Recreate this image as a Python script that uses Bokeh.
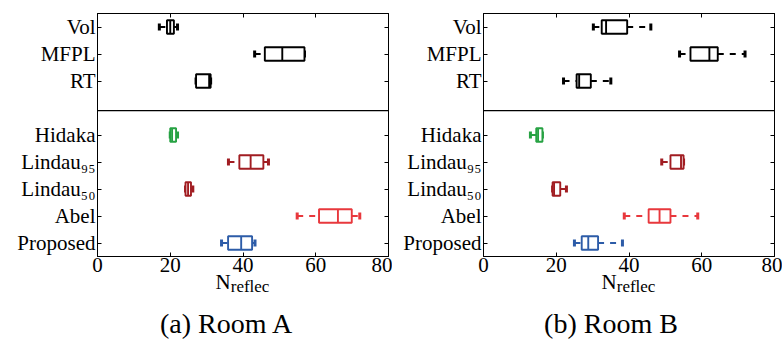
from bokeh.plotting import figure
from bokeh.models import Range1d, LinearAxis, FixedTicker, Span, ColumnDataSource, Div
from bokeh.layouts import row, column
from bokeh.embed import file_html
from bokeh.resources import INLINE

# ---- data ----
methods = ["Vol", "MFPL", "RT", "Hidaka", "Lindau\u2089\u2085", "Lindau\u2085\u2080", "Abel", "Proposed"]
colors = ["#000000", "#000000", "#000000", "#27a243", "#a11d22", "#a11d22", "#e8383d", "#2d5ca8"]
group_sizes = [3, 5]

roomA_whislo = [17.0, 43.2, 27.1, 20.0, 36.0, 24.2, 54.9, 34.1]
roomA_q1     = [19.1, 46.0, 27.1, 20.0, 39.0, 24.2, 60.9, 35.9]
roomA_med    = [20.0, 50.8, 30.7, 20.5, 42.1, 24.9, 66.1, 39.5]
roomA_q3     = [21.0, 56.9, 31.1, 21.6, 45.6, 25.7, 69.9, 42.5]
roomA_whishi = [22.0, 56.9, 31.1, 22.0, 47.0, 26.2, 72.1, 43.3]

roomB_whislo = [30.2, 53.9, 22.0, 12.9, 49.0, 19.0, 38.7, 25.0]
roomB_q1     = [32.5, 56.9, 25.6, 14.5, 51.4, 19.0, 45.4, 27.0]
roomB_med    = [33.7, 62.1, 26.3, 15.0, 54.3, 19.4, 48.4, 28.8]
roomB_q3     = [39.5, 64.4, 29.5, 16.2, 55.0, 21.1, 51.4, 31.5]
roomB_whishi = [46.0, 71.9, 35.0, 16.2, 55.0, 22.8, 58.9, 38.2]

x_ticks = [0, 20, 40, 60, 80]
captions = ["(a) Room A", "(b) Room B"]
x_label_main = "N"
x_label_sub = "reflec"

FONT = "Liberation Serif"

# row slots: groups separated by one empty slot
rows = []
for g, n in enumerate(group_sizes):
    start = sum(group_sizes[:g]) + g
    rows += list(range(start, start + n))
divider = group_sizes[0] + 0.1

BOX_H = 0.5
CAP_H = 0.26
FRAME_W = 291


def make_panel(whislo, q1, med, q3, whishi, width, lb, rb):
    p = figure(width=width, height=282, output_backend="svg", toolbar_location=None,
               x_range=Range1d(0, 80), y_range=Range1d(8.5, -0.5),
               min_border_left=lb, min_border_right=rb, min_border_top=13, min_border_bottom=26)
    p.xgrid.visible = False
    p.ygrid.visible = False
    p.outline_line_color = "black"
    p.outline_line_width = 1
    p.background_fill_color = "white"
    p.border_fill_color = "white"

    src = ColumnDataSource(dict(
        y=rows, whislo=whislo, q1=q1, med=med, q3=q3, whishi=whishi, color=colors,
        blo=[r - BOX_H / 2 for r in rows], bhi=[r + BOX_H / 2 for r in rows],
        clo=[r - CAP_H / 2 for r in rows], chi=[r + CAP_H / 2 for r in rows],
    ))
    # whiskers
    p.segment(x0="whislo", x1="q1", y0="y", y1="y", line_color="color", line_width=2,
              line_dash="6 6", source=src)
    p.segment(x0="q3", x1="whishi", y0="y", y1="y", line_color="color", line_width=2,
              line_dash="6 6", source=src)
    # caps
    p.segment(x0="whislo", x1="whislo", y0="clo", y1="chi", line_color="color", line_width=3, source=src)
    p.segment(x0="whishi", x1="whishi", y0="clo", y1="chi", line_color="color", line_width=3, source=src)
    # boxes
    p.hbar(y="y", left="q1", right="q3", height=BOX_H, fill_color="white", fill_alpha=1.0,
           line_color="color", line_width=1.9, source=src)
    # medians
    p.segment(x0="med", x1="med", y0="blo", y1="bhi", line_color="color", line_width=1.9, source=src)

    p.add_layout(Span(location=divider, dimension="width", line_color="black", line_width=1.2))

    # axes
    xa = p.xaxis[0]
    xa.ticker = FixedTicker(ticks=x_ticks)
    ya = p.yaxis[0]
    ya.ticker = FixedTicker(ticks=rows)
    ya.major_label_overrides = {r: m for r, m in zip(rows, methods)}
    for ax in (xa, ya):
        ax.major_tick_in = 4
        ax.major_tick_out = 0
        ax.minor_tick_line_color = None
        ax.axis_line_color = "black"
        ax.major_tick_line_color = "black"
        ax.major_label_text_font = FONT
        ax.major_label_text_font_size = "21px"
        ax.major_label_text_color = "black"
    xa.major_label_standoff = 1
    ya.major_label_standoff = 2

    ra = LinearAxis(ticker=FixedTicker(ticks=rows), major_tick_in=4, major_tick_out=0,
                    minor_tick_line_color=None, major_label_text_color=None,
                    major_label_overrides={r: "" for r in rows},
                    major_label_standoff=0, axis_line_color="black")
    ta = LinearAxis(ticker=FixedTicker(ticks=x_ticks), major_tick_in=4, major_tick_out=0,
                    minor_tick_line_color=None, major_label_text_color=None,
                    major_label_overrides={t: "" for t in x_ticks},
                    major_label_standoff=0, axis_line_color="black")
    p.add_layout(ra, "right")
    p.add_layout(ta, "above")
    return p


def make_texts(width, lb, caption, cap_center):
    html = (
        f'<div style="position:relative;width:{width}px;height:70px;font-family:\'{FONT}\',serif;color:#000;">'
        f'<div style="position:absolute;left:{lb}px;top:2px;width:{FRAME_W}px;text-align:center;'
        f'font-size:21px;line-height:1;white-space:nowrap;">{x_label_main}'
        f'<span style="font-size:17px;line-height:1;vertical-align:-3px;">{x_label_sub}</span></div>'
        f'<div style="position:absolute;left:0px;top:40px;width:{2 * cap_center}px;text-align:center;'
        f'font-size:28px;line-height:1;white-space:nowrap;">{caption}</div>'
        f'</div>'
    )
    return Div(text=html, width=width, height=70, margin=(-12, 0, 0, 0))


WA, LBA, RBA = 392, 97, 4
WB, LBB, RBB = 390, 91, 8

pA = make_panel(roomA_whislo, roomA_q1, roomA_med, roomA_q3, roomA_whishi, WA, LBA, RBA)
pB = make_panel(roomB_whislo, roomB_q1, roomB_med, roomB_q3, roomB_whishi, WB, LBB, RBB)

tA = make_texts(WA, LBA, captions[0], 226)
tB = make_texts(WB, LBB, captions[1], 219)

layout = column(row(pA, pB, spacing=0), row(tA, tB, spacing=0), spacing=0)
open("out.html", "w").write(file_html(layout, INLINE))
